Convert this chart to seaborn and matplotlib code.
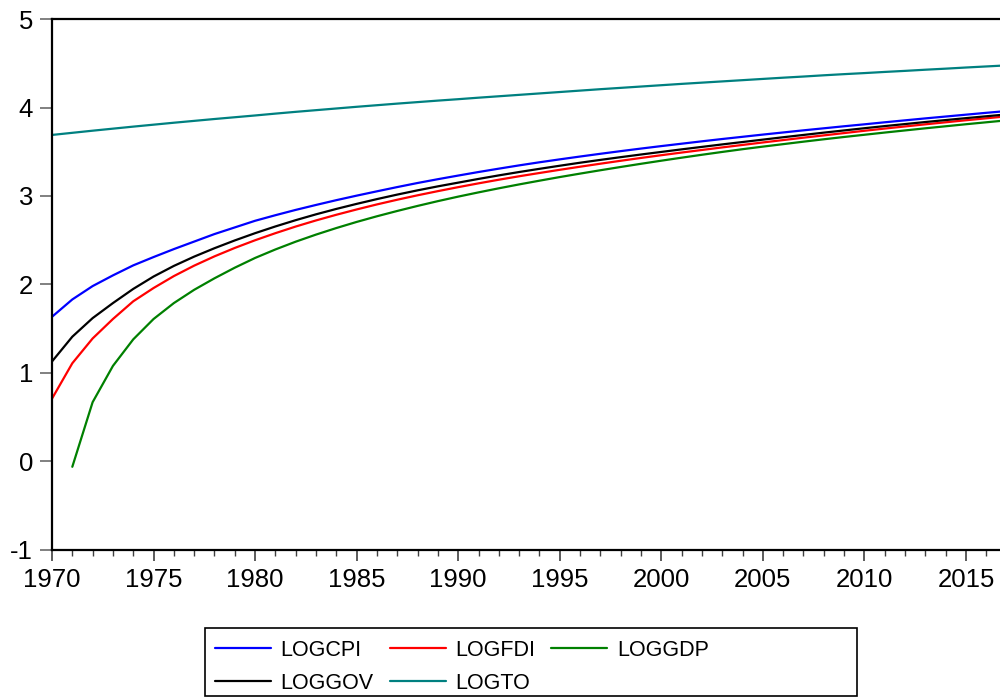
import matplotlib
matplotlib.use("Agg")
import numpy as np
import pandas as pd
import matplotlib.pyplot as plt
import seaborn as sns
from matplotlib.patches import Rectangle
from matplotlib.ticker import MultipleLocator

# values (1970-2017)
years = list(range(1970, 2018))
logcpi = [1.635, 1.831, 1.982, 2.103, 2.216, 2.310, 2.400, 2.485, 2.570, 2.645,
          2.720, 2.783, 2.843, 2.899, 2.953, 3.004, 3.053, 3.101, 3.147, 3.190,
          3.231, 3.271, 3.309, 3.346, 3.381, 3.414, 3.446, 3.477, 3.507, 3.536,
          3.564, 3.591, 3.618, 3.644, 3.669, 3.694, 3.718, 3.742, 3.765, 3.788,
          3.810, 3.833, 3.855, 3.877, 3.898, 3.919, 3.940, 3.960]
logfdi = [0.710, 1.110, 1.390, 1.610, 1.810, 1.960, 2.095, 2.213, 2.318, 2.413,
          2.500, 2.580, 2.655, 2.724, 2.788, 2.848, 2.905, 2.958, 3.008, 3.055,
          3.100, 3.143, 3.184, 3.223, 3.260, 3.296, 3.331, 3.365, 3.398, 3.430,
          3.461, 3.491, 3.520, 3.549, 3.577, 3.605, 3.632, 3.659, 3.685, 3.711,
          3.737, 3.762, 3.786, 3.810, 3.833, 3.856, 3.878, 3.900]
loggdp = [np.nan, -0.060, 0.670, 1.080, 1.380, 1.610, 1.790, 1.940, 2.070, 2.190,
          2.300, 2.396, 2.484, 2.564, 2.638, 2.707, 2.771, 2.831, 2.888, 2.942,
          2.993, 3.041, 3.087, 3.131, 3.173, 3.214, 3.253, 3.291, 3.328, 3.364,
          3.399, 3.433, 3.466, 3.498, 3.529, 3.558, 3.586, 3.614, 3.641, 3.667,
          3.692, 3.717, 3.741, 3.765, 3.788, 3.811, 3.833, 3.855]
loggov = [1.130, 1.410, 1.620, 1.790, 1.950, 2.090, 2.210, 2.315, 2.410, 2.498,
          2.580, 2.656, 2.727, 2.793, 2.854, 2.911, 2.965, 3.016, 3.064, 3.109,
          3.151, 3.193, 3.233, 3.271, 3.307, 3.342, 3.376, 3.408, 3.439, 3.469,
          3.498, 3.527, 3.555, 3.583, 3.610, 3.637, 3.664, 3.690, 3.716, 3.741,
          3.766, 3.790, 3.813, 3.836, 3.858, 3.880, 3.901, 3.922]
logto = [3.690, 3.714, 3.738, 3.761, 3.784, 3.806, 3.828, 3.849, 3.870, 3.890,
         3.910, 3.931, 3.951, 3.970, 3.989, 4.008, 4.026, 4.044, 4.061, 4.078,
         4.094, 4.111, 4.127, 4.143, 4.159, 4.175, 4.191, 4.207, 4.222, 4.237,
         4.252, 4.267, 4.281, 4.295, 4.309, 4.323, 4.337, 4.350, 4.364, 4.377,
         4.389, 4.402, 4.414, 4.427, 4.439, 4.452, 4.464, 4.476]

series = ["LOGCPI", "LOGFDI", "LOGGDP", "LOGGOV", "LOGTO"]
colors = ["#0000FF", "#FF0000", "#008000", "#000000", "#008080"]

df = pd.DataFrame({"year": years, "LOGCPI": logcpi, "LOGFDI": logfdi,
                   "LOGGDP": loggdp, "LOGGOV": loggov, "LOGTO": logto})
long = df.melt(id_vars="year", var_name="series", value_name="value").dropna()

sns.set_style("ticks")
plt.rcParams["font.family"] = ["Liberation Sans", "DejaVu Sans"]
plt.rcParams["axes.unicode_minus"] = False
plt.rcParams["text.color"] = "black"
plt.rcParams["xtick.labelcolor"] = "black"
plt.rcParams["ytick.labelcolor"] = "black"

fig = plt.figure(figsize=(10, 6.99), dpi=100)
ax = fig.add_axes([0.052, 0.2132, 0.9546, 0.7596])

sns.lineplot(data=long, x="year", y="value", hue="series", hue_order=series,
             palette=colors, linewidth=1.6, ax=ax, estimator=None)

ax.set_xlim(1970, 2017)
ax.set_ylim(-1, 5)
ax.xaxis.set_major_locator(MultipleLocator(5))
ax.xaxis.set_minor_locator(MultipleLocator(1))
ax.yaxis.set_major_locator(MultipleLocator(1))
ax.set_xlabel("")
ax.set_ylabel("")

for side in ["left", "bottom", "top"]:
    ax.spines[side].set_linewidth(1.6)
    ax.spines[side].set_color("black")
ax.spines["right"].set_visible(False)

ax.tick_params(axis="y", which="major", direction="out", length=8.6, width=1.4,
               color="#808080", labelsize=18.5, labelcolor="black", pad=5)
ax.tick_params(axis="x", which="major", direction="out", length=7.8, width=1.2,
               color="#404040", labelsize=18.5, labelcolor="black", pad=5.5)
ax.tick_params(axis="x", which="minor", direction="out", length=4, width=1.0,
               color="#404040")

# legend laid out row-wise like the original (matplotlib fills column-wise)
handles, labels = ax.get_legend_handles_labels()
lookup = dict(zip(labels, handles))
order = ["LOGCPI", "LOGGOV", "LOGFDI", "LOGTO", "LOGGDP"]
ax.get_legend().remove()
leg = fig.legend([lookup[k] for k in order], order, loc="upper left",
                 bbox_to_anchor=(0.205, 1 - 630 / 699), ncol=3, frameon=False,
                 fontsize=15.5, handlelength=2.6, handletextpad=0.45,
                 columnspacing=0.75, labelspacing=0.55, borderpad=0.45,
                 borderaxespad=0)
for t in leg.get_texts():
    t.set_color("black")
fig.patches.append(Rectangle((0.205, 3 / 699), 0.652, 68 / 699,
                             transform=fig.transFigure, fill=False,
                             edgecolor="black", linewidth=1.2))

fig.savefig("out.png", dpi=100)
